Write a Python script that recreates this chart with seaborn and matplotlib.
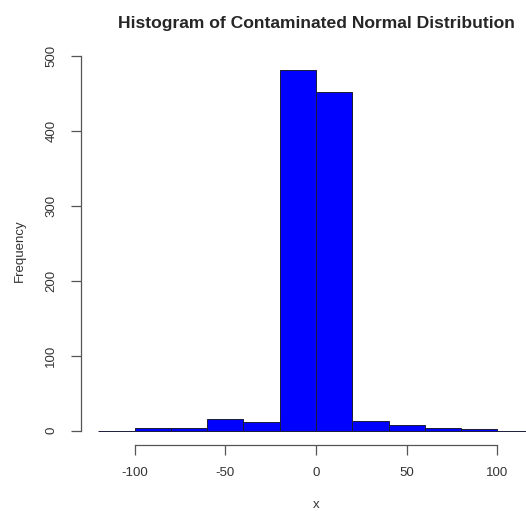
import matplotlib
matplotlib.use("Agg")
import matplotlib.pyplot as plt
import seaborn as sns
import numpy as np

# Data (bins of width 20)
bin_edges = [-120, -100, -80, -60, -40, -20, 0, 20, 40, 60, 80, 100, 120]
bin_counts = [0, 4, 4, 15, 11, 481, 452, 13, 7, 4, 2, 0]
x_ticks = [-100, -50, 0, 50, 100]
y_ticks = [0, 100, 200, 300, 400, 500]

sns.set_style("ticks")
plt.rcParams['font.family'] = ['Liberation Sans', 'DejaVu Sans']

W, H = 526, 511
fig = plt.figure(figsize=(W / 100, H / 100), dpi=100)
# plot region (R style): left 81px, right 551px (beyond image), top 56px, bottom 445px
left, right, top, bottom = 81, 551, 56, 445
ax = fig.add_axes([left / W, 1 - bottom / H, (right - left) / W, (bottom - top) / H])

centers = [(a + b) / 2 for a, b in zip(bin_edges[:-1], bin_edges[1:])]
sns.histplot(x=centers, weights=bin_counts, bins=bin_edges, ax=ax,
             color="#0000ff", edgecolor="#1a1a3a", linewidth=0.7, alpha=1.0)

span = bin_edges[-1] - bin_edges[0]
ax.set_xlim(bin_edges[0] - 0.04 * span, bin_edges[-1] + 0.04 * span)
ymax = max(bin_counts)
ax.set_ylim(-0.04 * ymax, ymax * 1.04)

fs = 9.5
ax.set_xticks(x_ticks)
ax.set_yticks(y_ticks)
ax.set_xticklabels([str(v) for v in x_ticks], fontsize=fs, color="#333333")
ax.set_yticklabels([str(v) for v in y_ticks], fontsize=fs, color="#333333",
                   rotation=90, va="center")
ax.tick_params(axis="both", direction="out", length=7, width=0.9, color="#555555",
               bottom=True, left=True, top=False, right=False)
ax.tick_params(axis="y", pad=10)
ax.tick_params(axis="x", pad=9)

for s in ["top", "right"]:
    ax.spines[s].set_visible(False)
for s in ["left", "bottom"]:
    ax.spines[s].set_color("#555555")
    ax.spines[s].set_linewidth(0.9)
ax.spines["left"].set_bounds(y_ticks[0], y_ticks[-1])
ax.spines["bottom"].set_bounds(x_ticks[0], x_ticks[-1])

ax.set_xlabel("x", fontsize=fs, color="#333333", labelpad=14.5)
ax.set_ylabel("Frequency", fontsize=fs, color="#333333", labelpad=14)
ax.set_title("Histogram of Contaminated Normal Distribution",
             fontsize=12.6, fontweight="bold", pad=20)

fig.savefig("out.png", dpi=100)
